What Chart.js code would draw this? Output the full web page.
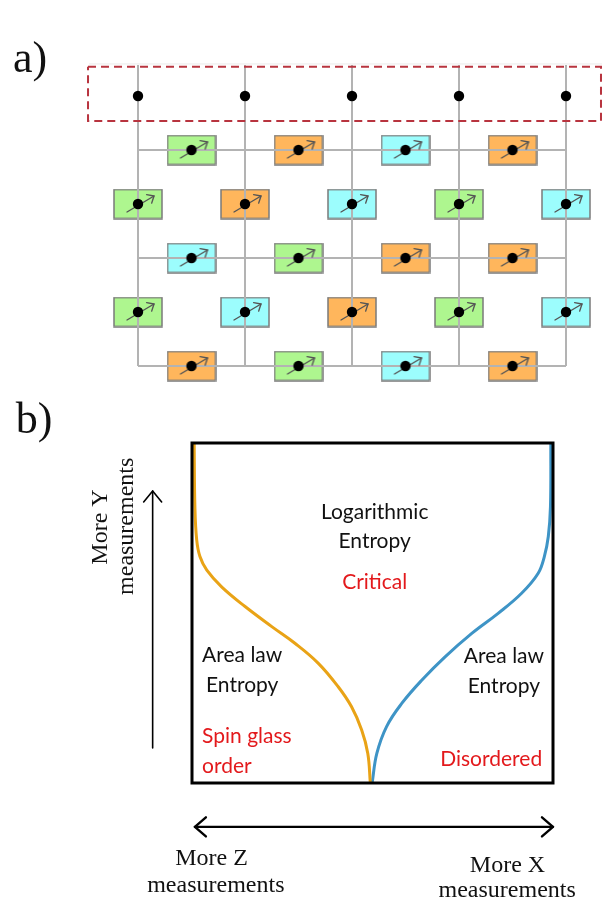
<!DOCTYPE html>
<html><head><meta charset="utf-8">
<script src="https://cdn.jsdelivr.net/npm/chart.js@4"></script>
<style>
html,body{margin:0;padding:0;background:#fff;}
#wrap{position:relative;width:602px;height:900px;overflow:hidden;background:#fff;}
canvas{position:absolute;left:0;}
#ca{top:0;}
#cb{top:400px;}
</style></head><body>
<div id="wrap"><canvas id="ca" width="602" height="400"></canvas><canvas id="cb" width="602" height="500"></canvas></div>
<script>
// ---------- Panel a) data: lattice in column / row units ----------
const latticeColumns = [0, 1, 2, 3, 4];
const latticeRows = [1, 2, 3, 4, 5];          // rows below the readout row
const readoutRow = 0;
const cellColors = [                           // odd rows sit between columns
  ['green', 'orange', 'cyan', 'orange'],
  ['green', 'orange', 'cyan', 'green', 'cyan'],
  ['cyan', 'green', 'orange', 'orange'],
  ['green', 'cyan', 'orange', 'green', 'cyan'],
  ['orange', 'green', 'cyan', 'orange']
];
const gridTopRow = -0.574;
const readoutBox = [[-0.467, -0.543], [4.327, -0.543], [4.327, 0.463], [-0.467, 0.463], [-0.467, -0.543]];
const photoFrame = [[-0.458, -1.6], [-0.458, -0.593], [4.34, -0.593]];
const panelALabels = [{ text: 'a)', x: -1.168, y: -0.45 }];

// ---------- Panel b) data: phase diagram in unit square ----------
const spinGlassBoundary = [
  [0.006, 1.0], [0.008, 0.813], [0.013, 0.715], [0.022, 0.666], [0.041, 0.626], [0.082, 0.577],
  [0.147, 0.519], [0.221, 0.460], [0.285, 0.411], [0.350, 0.352], [0.405, 0.283], [0.442, 0.224],
  [0.470, 0.156], [0.487, 0.087], [0.494, 0.0]
];
const disorderedBoundary = [
  [0.994, 1.0], [0.993, 0.813], [0.987, 0.725], [0.976, 0.666], [0.959, 0.617], [0.913, 0.558],
  [0.848, 0.499], [0.775, 0.440], [0.701, 0.371], [0.637, 0.303], [0.581, 0.234], [0.539, 0.166],
  [0.512, 0.087], [0.499, 0.0]
];
const regionLabels = [
  { text: 'Logarithmic', x: 0.506, y: 0.776, red: false, align: 'center' },
  { text: 'Entropy', x: 0.506, y: 0.690, red: false, align: 'center' },
  { text: 'Critical', x: 0.506, y: 0.570, red: true, align: 'center' },
  { text: 'Area law', x: 0.139, y: 0.357, red: false, align: 'center' },
  { text: 'Entropy', x: 0.139, y: 0.269, red: false, align: 'center' },
  { text: 'Spin glass', x: 0.028, y: 0.118, red: true, align: 'left' },
  { text: 'order', x: 0.028, y: 0.030, red: true, align: 'left' },
  { text: 'Area law', x: 0.864, y: 0.354, red: false, align: 'center' },
  { text: 'Entropy', x: 0.864, y: 0.264, red: false, align: 'center' },
  { text: 'Disordered', x: 0.970, y: 0.050, red: true, align: 'right' }
];
const axisLabels = [
  { text: 'More Y', x: -0.235, y: 0.753, rotate: true },
  { text: 'measurements', x: -0.163, y: 0.755, rotate: true },
  { text: 'More Z', x: 0.054, y: -0.241, rotate: false },
  { text: 'measurements', x: 0.066, y: -0.321, rotate: false },
  { text: 'More X', x: 0.874, y: -0.262, rotate: false },
  { text: 'measurements', x: 0.873, y: -0.335, rotate: false },
  { text: 'b)', x: -0.488, y: 1.029, rotate: false, big: true }
];
const yArrow = { x: -0.109, from: 0.103, to: 0.859 };
const xArrow = { y: -0.129, from: 0.008, to: 1.0 };

// ---------- styles ----------
const palette = { green: '#aef68f', orange: '#ffb65c', cyan: '#9cfdfd' };
const SERIF = '"Liberation Serif", "Times New Roman", serif';
const SANS = 'Lato, "Open Sans", sans-serif';

function makeBox(fill) {
  const c = document.createElement('canvas'); c.width = 50; c.height = 31;
  const g = c.getContext('2d');
  g.fillStyle = fill; g.fillRect(1, 1, 48, 29);
  g.strokeStyle = '#7a7a7a'; g.lineWidth = 1.5; g.strokeRect(1, 1, 48, 29);
  return c;
}
function makeSpin() {
  const c = document.createElement('canvas'); c.width = 44; c.height = 32;
  const g = c.getContext('2d'); const cx = 22, cy = 16;
  g.strokeStyle = '#555'; g.lineWidth = 1.4; g.lineCap = 'round'; g.lineJoin = 'round';
  const tx = cx - 11, ty = cy + 8, hx = cx + 16, hy = cy - 8;
  g.beginPath(); g.moveTo(tx, ty); g.lineTo(hx, hy); g.stroke();
  const ang = Math.atan2(hy - ty, hx - tx), L = 7.5, s = 0.72;
  g.beginPath();
  g.moveTo(hx - L * Math.cos(ang - s), hy - L * Math.sin(ang - s));
  g.lineTo(hx, hy);
  g.lineTo(hx - L * Math.cos(ang + s), hy - L * Math.sin(ang + s));
  g.stroke();
  g.fillStyle = '#000'; g.beginPath(); g.arc(cx, cy, 5.2, 0, 2 * Math.PI); g.fill();
  return c;
}

const pts = arr => arr.map(p => ({ x: p[0], y: p[1] }));

// ---------- Chart A ----------
const cells = [];
latticeRows.forEach((r, i) => {
  const off = (r % 2 === 1) ? 0.5 : 0;
  cellColors[i].forEach((col, j) => cells.push({ x: latticeColumns[j] + off, y: r, color: col }));
});
const lineBase = { showLine: true, pointRadius: 0, clip: false, tension: 0 };
const dsA = [];
dsA.push(Object.assign({ data: pts(photoFrame), borderColor: '#ebebeb', borderWidth: 1, order: 10 }, lineBase));
Object.keys(palette).forEach(k => {
  dsA.push({ data: cells.filter(c => c.color === k), pointStyle: makeBox(palette[k]), pointRadius: 15, order: 8, clip: false, showLine: false });
});
const lastRow = latticeRows[latticeRows.length - 1];
latticeColumns.forEach(c => dsA.push(Object.assign({ data: [{ x: c, y: gridTopRow }, { x: c, y: lastRow }], borderColor: '#b3b3b3', borderWidth: 2, order: 6 }, lineBase)));
latticeRows.filter(r => r % 2 === 1).forEach(r => dsA.push(Object.assign({ data: [{ x: latticeColumns[0], y: r }, { x: latticeColumns[latticeColumns.length - 1], y: r }], borderColor: '#b3b3b3', borderWidth: 2, order: 6 }, lineBase)));
dsA.push(Object.assign({ data: pts(readoutBox), borderColor: '#b8343f', borderWidth: 2, borderDash: [8, 5], order: 5 }, lineBase));
dsA.push({ data: cells, pointStyle: makeSpin(), pointRadius: 15, order: 2, clip: false, showLine: false });
dsA.push({ data: latticeColumns.map(c => ({ x: c, y: readoutRow })), pointStyle: 'circle', pointRadius: 5.2, backgroundColor: '#000', borderWidth: 0, order: 1, clip: false, showLine: false });

const labelPluginA = {
  id: 'labelsA',
  afterDatasetsDraw(chart) {
    const { ctx, scales: { x, y } } = chart;
    ctx.save();
    ctx.fillStyle = '#111'; ctx.font = '44px ' + SERIF; ctx.textAlign = 'left'; ctx.textBaseline = 'alphabetic';
    panelALabels.forEach(l => ctx.fillText(l.text, x.getPixelForValue(l.x), y.getPixelForValue(l.y)));
    ctx.restore();
  }
};

new Chart(document.getElementById('ca'), {
  type: 'scatter',
  data: { datasets: dsA },
  options: {
    responsive: false, animation: false, events: [],
    layout: { padding: { left: 138, right: 36, top: 96, bottom: 34 } },
    plugins: { legend: { display: false }, tooltip: { enabled: false }, title: { display: false } },
    scales: {
      x: { type: 'linear', display: false, min: 0, max: 4 },
      y: { type: 'linear', display: false, min: 0, max: 5, reverse: true }
    }
  },
  plugins: [labelPluginA]
});

// ---------- Chart B ----------
function arrowHead(ctx, tx, ty, dx, dy, len, half) {
  const bx = tx - dx * len, by = ty - dy * len;
  const px = -dy * half, py = dx * half;
  ctx.beginPath();
  ctx.moveTo(bx + px, by + py); ctx.lineTo(tx, ty); ctx.lineTo(bx - px, by - py);
  ctx.stroke();
}
const decorB = {
  id: 'decorB',
  afterDatasetsDraw(chart) {
    const { ctx, chartArea: a, scales: { x, y } } = chart;
    ctx.save();
    ctx.strokeStyle = '#000'; ctx.lineWidth = 3;
    ctx.strokeRect(a.left, a.top, a.right - a.left, a.bottom - a.top);
    ctx.lineCap = 'round'; ctx.lineJoin = 'round';
    const ax = x.getPixelForValue(yArrow.x);
    ctx.lineWidth = 1.6;
    ctx.beginPath(); ctx.moveTo(ax, y.getPixelForValue(yArrow.from)); ctx.lineTo(ax, y.getPixelForValue(yArrow.to)); ctx.stroke();
    arrowHead(ctx, ax, y.getPixelForValue(yArrow.to), 0, -1, 11, 9);
    const ay = y.getPixelForValue(xArrow.y);
    const x0 = x.getPixelForValue(xArrow.from), x1 = x.getPixelForValue(xArrow.to);
    ctx.lineWidth = 2.4;
    ctx.beginPath(); ctx.moveTo(x0, ay); ctx.lineTo(x1, ay); ctx.stroke();
    arrowHead(ctx, x0, ay, -1, 0, 11, 9.5);
    arrowHead(ctx, x1, ay, 1, 0, 11, 9.5);
    ctx.textBaseline = 'alphabetic';
    ctx.font = '21px ' + SANS;
    regionLabels.forEach(l => {
      ctx.fillStyle = l.red ? '#e3191c' : '#111';
      ctx.textAlign = l.align;
      ctx.fillText(l.text, x.getPixelForValue(l.x), y.getPixelForValue(l.y));
    });
    ctx.fillStyle = '#111';
    axisLabels.forEach(l => {
      ctx.font = (l.big ? '44px ' : '24px ') + SERIF;
      const px = x.getPixelForValue(l.x), py = y.getPixelForValue(l.y);
      if (l.rotate) {
        ctx.save(); ctx.translate(px, py); ctx.rotate(-Math.PI / 2);
        ctx.textAlign = 'center'; ctx.fillText(l.text, 0, 0); ctx.restore();
      } else {
        ctx.textAlign = l.big ? 'left' : 'center';
        ctx.fillText(l.text, px, py);
      }
    });
    ctx.restore();
  }
};

new Chart(document.getElementById('cb'), {
  type: 'scatter',
  data: {
    datasets: [
      { data: pts(spinGlassBoundary), showLine: true, borderColor: '#e9a316', borderWidth: 3, pointRadius: 0, tension: 0.4, clip: false },
      { data: pts(disorderedBoundary), showLine: true, borderColor: '#3e94c6', borderWidth: 3, pointRadius: 0, tension: 0.4, clip: false }
    ]
  },
  options: {
    responsive: false, animation: false, events: [],
    layout: { padding: { left: 192, right: 49, top: 43, bottom: 117 } },
    plugins: { legend: { display: false }, tooltip: { enabled: false }, title: { display: false } },
    scales: {
      x: { type: 'linear', display: false, min: 0, max: 1 },
      y: { type: 'linear', display: false, min: 0, max: 1 }
    }
  },
  plugins: [decorB]
});
</script></body></html>
